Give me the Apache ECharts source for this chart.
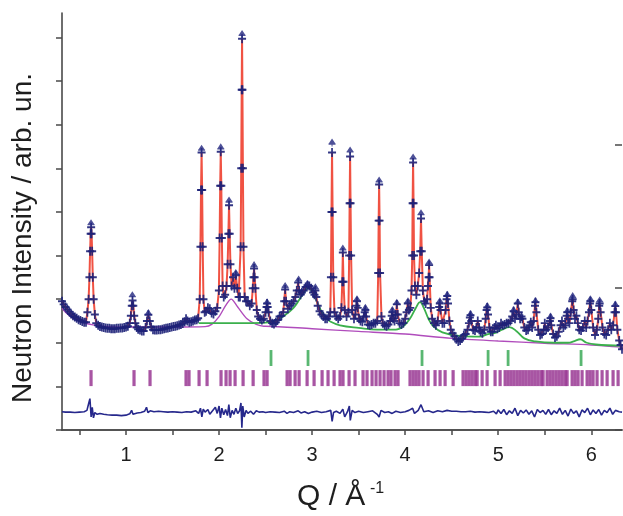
<!DOCTYPE html>
<html>
<head>
<meta charset="utf-8">
<script src="https://cdn.jsdelivr.net/npm/echarts@6/dist/echarts.min.js"></script>
<style>
  html, body { margin: 0; padding: 0; background: #ffffff; }
  #chart { width: 623px; height: 516px; }
</style>
</head>
<body>
<div id="chart"></div>
<script>
// Q axis ticks and labels (Å^-1)
const qTicks = [0.5, 1, 1.5, 2, 2.5, 3, 3.5, 4, 4.5, 5, 5.5, 6];
const qLabels = [1, 2, 3, 4, 5, 6];
const intensityTicks = [0, 1, 2, 3, 4, 5, 6, 7, 8, 9];
const rightTicks = [0, 1, 2];

// Measured / refined profile, [Q, intensity] (arb. units)
const pattern = [
  [0.312,2.95],[0.33,2.88],[0.35,2.82],[0.37,2.76],[0.39,2.71],[0.41,2.66],[0.43,2.62],[0.45,2.59],[0.47,2.56],[0.49,2.53],[0.51,2.51],[0.53,2.49],[0.55,2.47],[0.57,2.47],
  [0.585,2.7],[0.598,3.0],[0.607,3.5],[0.614,4.1],[0.62,4.5],[0.625,4.65],[0.63,4.5],[0.636,4.1],[0.643,3.5],[0.652,3.0],[0.665,2.65],[0.68,2.45],
  [0.70,2.40],[0.72,2.37],[0.74,2.36],[0.76,2.35],[0.78,2.34],[0.80,2.33],[0.82,2.33],[0.84,2.32],[0.86,2.32],[0.88,2.32],[0.90,2.33],[0.92,2.33],[0.94,2.34],[0.96,2.34],[0.98,2.35],[1.00,2.36],[1.02,2.38],
  [1.04,2.45],[1.052,2.62],[1.062,2.85],[1.07,2.97],[1.078,2.85],[1.088,2.62],[1.10,2.45],[1.115,2.35],
  [1.13,2.31],[1.15,2.29],[1.17,2.27],[1.19,2.27],
  [1.21,2.35],[1.225,2.5],[1.24,2.64],[1.255,2.5],[1.27,2.36],
  [1.29,2.30],[1.31,2.29],[1.33,2.29],[1.35,2.30],[1.37,2.30],[1.39,2.31],[1.41,2.32],[1.43,2.33],[1.45,2.34],[1.47,2.35],[1.49,2.36],[1.51,2.37],[1.53,2.38],[1.55,2.39],[1.57,2.41],[1.59,2.42],[1.61,2.44],[1.63,2.48],[1.645,2.55],[1.66,2.5],[1.68,2.47],[1.70,2.48],[1.72,2.5],[1.74,2.52],[1.76,2.53],[1.775,2.56],
  [1.792,3.0],[1.80,4.2],[1.806,5.5],[1.812,6.36],[1.818,5.5],[1.824,4.2],[1.832,3.0],[1.845,2.7],
  [1.86,2.72],[1.88,2.8],[1.90,2.78],[1.92,2.68],[1.94,2.66],[1.96,2.72],[1.98,2.8],
  [1.998,3.2],[2.006,4.4],[2.012,5.6],[2.018,6.38],[2.024,5.6],[2.03,4.4],[2.038,3.3],[2.05,3.05],[2.065,3.1],[2.08,3.3],
  [2.092,3.8],[2.10,4.5],[2.107,5.15],[2.114,4.5],[2.122,3.8],[2.135,3.3],[2.15,3.5],[2.165,3.25],[2.18,3.55],[2.195,3.25],[2.21,3.05],[2.225,3.05],
  [2.232,4.2],[2.238,6.0],[2.243,7.8],[2.247,8.97],[2.251,7.8],[2.256,6.0],[2.262,4.2],[2.275,3.05],[2.29,2.95],[2.31,2.95],[2.33,2.85],[2.35,2.9],
  [2.362,3.25],[2.37,3.5],[2.376,3.7],[2.382,3.5],[2.39,3.25],[2.405,2.75],[2.42,2.6],[2.44,2.55],[2.46,2.52],[2.48,2.55],
  [2.50,2.7],[2.51,2.82],[2.516,2.9],[2.522,2.82],[2.532,2.7],[2.55,2.5],[2.57,2.45],[2.59,2.43],[2.61,2.47],[2.63,2.52],[2.65,2.6],[2.67,2.62],[2.69,2.7],
  [2.70,2.95],[2.71,3.22],[2.72,2.95],[2.74,2.78],[2.76,2.85],[2.78,2.9],[2.80,2.95],[2.82,3.05],[2.835,3.2],
  [2.85,3.38],[2.86,3.2],[2.875,3.1],[2.89,3.15],[2.91,3.2],[2.93,3.28],[2.95,3.32],[2.97,3.3],[2.99,3.25],[3.01,3.15],
  [3.025,3.1],[3.035,3.2],[3.045,3.05],[3.06,2.85],[3.08,2.72],[3.10,2.65],[3.12,2.6],[3.14,2.55],[3.16,2.55],[3.18,2.6],[3.195,2.7],
  [3.202,3.5],[3.208,5.0],[3.214,6.36],[3.22,5.0],[3.227,3.5],[3.24,2.7],[3.26,2.6],[3.28,2.55],[3.30,2.6],[3.315,2.8],
  [3.324,3.4],[3.33,4.07],[3.337,3.4],[3.35,2.75],[3.37,2.6],[3.39,2.7],
  [3.398,4.0],[3.403,5.2],[3.408,6.27],[3.413,5.2],[3.419,4.0],[3.43,2.75],[3.45,2.55],[3.465,2.65],
  [3.475,2.85],[3.482,2.95],[3.49,2.8],[3.505,2.55],[3.52,2.5],[3.54,2.48],[3.555,2.6],
  [3.565,2.7],[3.572,2.75],[3.58,2.6],[3.60,2.42],[3.62,2.4],[3.64,2.42],[3.66,2.45],[3.68,2.45],[3.70,2.5],
  [3.71,3.6],[3.715,4.8],[3.72,5.63],[3.725,4.8],[3.73,3.6],[3.745,2.6],[3.76,2.45],[3.78,2.4],[3.80,2.38],[3.82,2.42],[3.84,2.5],
  [3.855,2.62],[3.862,2.7],[3.87,2.55],[3.885,2.5],[3.90,2.65],
  [3.91,2.88],[3.92,2.65],[3.94,2.45],[3.96,2.42],[3.98,2.45],[4.00,2.55],[4.015,2.7],
  [4.028,2.9],[4.04,2.75],[4.055,2.8],[4.068,3.2],
  [4.076,4.0],[4.08,5.2],[4.085,6.13],[4.09,5.2],[4.095,4.0],[4.105,3.3],[4.12,3.1],[4.135,3.3],[4.15,3.6],
  [4.162,4.1],[4.17,4.85],[4.178,4.1],[4.19,3.2],[4.205,2.95],[4.22,2.9],[4.235,3.0],[4.245,3.3],
  [4.252,3.5],[4.257,3.78],[4.262,3.5],[4.275,2.8],[4.29,2.55],[4.31,2.45],[4.33,2.4],[4.35,2.5],
  [4.365,2.82],[4.372,2.9],[4.38,2.75],[4.40,2.45],[4.42,2.45],[4.435,2.75],
  [4.445,3.0],[4.452,3.07],[4.46,2.9],[4.475,2.5],[4.49,2.3],[4.51,2.22],[4.53,2.15],[4.55,2.08],[4.57,2.03],[4.59,2.05],[4.61,2.1],[4.63,2.17],[4.65,2.2],[4.67,2.3],[4.685,2.45],
  [4.695,2.58],[4.702,2.63],[4.71,2.5],[4.73,2.3],[4.75,2.28],[4.765,2.35],[4.78,2.5],[4.795,2.35],[4.81,2.25],[4.83,2.22],[4.85,2.3],[4.865,2.55],
  [4.875,2.75],[4.882,2.81],[4.89,2.65],[4.905,2.35],[4.92,2.25],[4.94,2.25],[4.96,2.35],[4.975,2.4],[4.99,2.32],[5.01,2.35],[5.03,2.45],[5.05,2.4],[5.07,2.42],[5.09,2.45],[5.11,2.45],[5.13,2.5],[5.15,2.6],
  [5.165,2.72],[5.18,2.55],[5.195,2.65],[5.21,2.9],[5.22,2.7],[5.235,2.55],[5.25,2.6],[5.26,2.55],[5.28,2.35],[5.30,2.28],[5.32,2.3],[5.335,2.4],[5.35,2.47],[5.365,2.35],[5.38,2.5],
  [5.395,2.85],[5.40,2.93],[5.41,2.7],[5.43,2.3],[5.45,2.18],[5.47,2.2],[5.49,2.3],[5.50,2.45],[5.515,2.3],[5.535,2.35],
  [5.555,2.5],[5.562,2.56],[5.57,2.4],[5.59,2.2],[5.61,2.12],[5.63,2.15],[5.65,2.25],[5.67,2.4],[5.685,2.5],[5.70,2.35],[5.72,2.4],
  [5.735,2.62],[5.742,2.7],[5.75,2.55],[5.765,2.45],[5.78,2.7],
  [5.795,2.95],[5.80,3.0],[5.81,2.75],[5.825,2.55],[5.84,2.62],[5.855,2.45],[5.87,2.3],[5.89,2.28],[5.91,2.35],[5.93,2.5],[5.945,2.35],[5.96,2.5],[5.975,2.7],
  [5.985,2.9],[5.99,2.95],[6.00,2.75],[6.02,2.35],[6.04,2.18],[6.06,2.3],[6.075,2.55],[6.085,2.85],
  [6.09,2.9],[6.10,2.7],[6.12,2.35],[6.14,2.2],[6.16,2.18],[6.18,2.3],[6.20,2.45],[6.215,2.3],[6.235,2.4],[6.25,2.7],
  [6.258,2.84],[6.265,2.7],[6.28,2.3],[6.30,2.05],[6.315,1.95],[6.33,1.85]
];

// Highest measured counts on each reflection
const observedTops = [
  [0.624,4.74],[1.068,3.09],[1.24,2.68],[1.812,6.45],[2.018,6.48],[2.107,5.26],[2.18,3.6],[2.247,9.08],
  [2.376,3.78],[2.516,2.93],[2.71,3.3],[2.855,3.45],[2.95,3.35],[3.035,3.27],[3.214,6.59],[3.33,4.16],
  [3.408,6.41],[3.482,3.0],[3.572,2.8],[3.72,5.72],[3.862,2.75],[3.91,2.92],[4.03,2.95],[4.085,6.25],
  [4.17,4.97],[4.257,3.84],[4.372,2.95],[4.452,3.1],[4.702,2.66],[4.882,2.84],[5.165,2.75],[5.21,2.93],
  [5.40,2.96],[5.562,2.6],[5.742,2.73],[5.80,3.07],[5.99,3.0],[6.09,2.97],[6.258,2.88]
];

// Background curve
const background = [
  [0.312,2.79],[0.35,2.70],[0.40,2.61],[0.45,2.54],[0.50,2.49],[0.55,2.45],[0.60,2.43],[0.70,2.39],[0.80,2.37],
  [1.0,2.36],[1.5,2.36],[1.85,2.37],[1.92,2.42],[2.0,2.6],[2.07,2.85],[2.13,3.0],[2.2,2.82],[2.3,2.55],[2.4,2.42],
  [2.48,2.38],[2.5,2.38],[3.0,2.32],[3.5,2.26],[4.0,2.2],[4.5,2.1],[5.0,2.04],[5.5,1.99],[6.0,1.95],[6.33,1.9]
];

// Broad second-phase contribution on top of the background
const secondPhase = [
  [1.78,2.45],[2.0,2.45],[2.3,2.45],[2.5,2.46],[2.6,2.5],[2.7,2.62],[2.8,2.8],[2.86,2.98],[2.91,3.15],[2.96,3.27],
  [3.0,3.17],[3.05,2.95],[3.1,2.72],[3.15,2.57],[3.2,2.48],[3.3,2.4],[3.5,2.34],[3.7,2.3],[3.9,2.3],[3.98,2.38],
  [4.05,2.55],[4.11,2.78],[4.16,2.93],[4.2,2.8],[4.25,2.55],[4.3,2.38],[4.4,2.24],[4.6,2.15],[4.8,2.14],[4.89,2.2],
  [4.96,2.22],[5.04,2.3],[5.12,2.36],[5.2,2.26],[5.28,2.1],[5.4,2.03],[5.6,2.0],[5.75,2.0],[5.82,2.04],[5.88,2.08],
  [5.95,2.0],[6.05,1.96],[6.33,1.93]
];

// Observed minus calculated
const difference = [
  [0.312,0.42],[0.35,0.41],[0.40,0.41],[0.45,0.40],[0.50,0.41],[0.55,0.42],[0.58,0.45],[0.60,0.62],[0.612,0.72],[0.625,0.3],
  [0.637,0.52],[0.65,0.28],[0.665,0.4],[0.69,0.36],[0.72,0.38],[0.76,0.36],[0.80,0.35],[0.85,0.34],[0.90,0.34],[0.95,0.33],
  [1.0,0.34],[1.04,0.37],[1.06,0.45],[1.075,0.36],[1.09,0.4],[1.12,0.39],[1.16,0.4],[1.2,0.43],[1.22,0.52],[1.235,0.4],
  [1.26,0.44],[1.3,0.42],[1.35,0.43],[1.4,0.42],[1.45,0.41],[1.5,0.42],[1.55,0.41],[1.6,0.4],[1.65,0.42],[1.7,0.41],
  [1.75,0.44],[1.78,0.38],[1.80,0.5],[1.815,0.3],[1.83,0.48],[1.85,0.41],[1.88,0.47],[1.9,0.36],[1.93,0.44],[1.96,0.52],
  [1.98,0.38],[2.0,0.55],[2.015,0.28],[2.03,0.5],[2.05,0.35],[2.07,0.47],[2.09,0.33],[2.105,0.58],[2.12,0.28],[2.14,0.45],
  [2.16,0.36],[2.18,0.5],[2.2,0.38],[2.22,0.44],[2.235,0.62],[2.245,0.05],[2.255,0.55],[2.27,0.3],[2.29,0.45],[2.31,0.38],
  [2.34,0.43],[2.37,0.36],[2.4,0.44],[2.43,0.41],[2.47,0.42],[2.5,0.4],[2.55,0.42],[2.6,0.41],[2.65,0.4],[2.7,0.43],
  [2.73,0.38],[2.76,0.42],[2.8,0.4],[2.85,0.44],[2.88,0.39],[2.92,0.42],[2.96,0.38],[3.0,0.41],[3.05,0.43],[3.1,0.4],
  [3.15,0.42],[3.2,0.45],[3.215,0.2],[3.23,0.4],[3.26,0.43],[3.3,0.38],[3.33,0.48],[3.35,0.3],[3.38,0.42],[3.40,0.55],
  [3.41,0.22],[3.43,0.45],[3.46,0.4],[3.5,0.43],[3.55,0.4],[3.6,0.42],[3.65,0.44],[3.7,0.36],[3.72,0.3],[3.74,0.45],
  [3.78,0.4],[3.82,0.42],[3.86,0.38],[3.9,0.43],[3.95,0.4],[4.0,0.42],[4.04,0.45],[4.08,0.5],[4.1,0.38],[4.14,0.45],
  [4.17,0.58],[4.2,0.42],[4.25,0.44],[4.3,0.4],[4.35,0.44],[4.4,0.42],[4.45,0.45],[4.5,0.43],[4.55,0.43],[4.6,0.42],
  [4.65,0.42],[4.7,0.43],[4.75,0.41],[4.8,0.42],[4.85,0.41],[4.9,0.4],[4.95,0.43],[4.98,0.37],[5.0,0.46],[5.03,0.38],
  [5.06,0.47],[5.09,0.35],[5.12,0.44],[5.15,0.38],[5.18,0.5],[5.21,0.33],[5.24,0.45],[5.27,0.39],[5.3,0.46],[5.33,0.36],
  [5.36,0.44],[5.39,0.3],[5.42,0.47],[5.45,0.4],[5.48,0.45],[5.51,0.36],[5.54,0.47],[5.57,0.35],[5.6,0.44],[5.63,0.38],
  [5.66,0.5],[5.69,0.36],[5.72,0.45],[5.75,0.32],[5.78,0.48],[5.81,0.38],[5.84,0.44],[5.87,0.3],[5.9,0.46],[5.93,0.4],
  [5.96,0.5],[5.99,0.35],[6.02,0.46],[6.05,0.38],[6.08,0.47],[6.11,0.34],[6.14,0.45],[6.17,0.4],[6.2,0.5],[6.23,0.36],
  [6.26,0.45],[6.3,0.42],[6.33,0.41]
];

// Bragg reflection positions (Q) of the main phase
const mainReflections = [
  0.624,1.086,1.258,1.645,1.677,1.785,1.871,2.021,2.075,2.118,2.172,2.258,2.366,2.483,2.516,
  2.731,2.763,2.817,2.860,2.946,3.021,3.107,3.171,3.236,3.300,3.332,3.397,3.461,3.547,3.590,
  3.644,3.687,3.730,3.773,3.816,3.848,3.891,3.923,4.052,4.085,4.117,4.149,4.192,4.246,4.321,
  4.375,4.429,4.515,4.622,4.655,4.687,4.719,4.751,4.773,4.827,4.880,4.966,5.020,
  5.074,5.106,5.138,5.170,5.203,5.235,5.267,5.299,5.332,5.364,5.396,5.428,5.461,5.482,
  5.525,5.557,5.589,5.622,5.654,5.686,5.718,5.740,5.794,5.826,5.858,5.901,5.955,5.987,6.019,
  6.062,6.116,6.170,6.234,6.288
];

// Bragg reflection positions (Q) of the second phase
const secondReflections = [2.558, 2.956, 4.181, 4.891, 5.106, 5.890];

const FONT = '"Liberation Sans", Arial, Helvetica, sans-serif';
const AXIS_COLOR = '#4a4a4a';
const MAIN_ROW = 1.19;     // height of the main-phase marker row
const SECOND_ROW = 1.65;   // height of the second-phase marker row

const plusSymbol = 'path://M0,3.9H10V6.1H0Z M3.9,0H6.1V10H3.9Z';
const topSymbol = 'path://M5,0L9.5,6H0.5Z M0,6H10V7.6H0Z M4.3,6H5.7V10H4.3Z';

const chart = echarts.init(document.getElementById('chart'), null, { renderer: 'canvas' });

chart.setOption({
  animation: false,
  backgroundColor: '#ffffff',
  grid: { left: 62, right: 1, top: 13, bottom: 86, containLabel: false },
  xAxis: [
    {
      type: 'value', position: 'bottom', min: 0.312, max: 6.33,
      axisLine: { show: true, lineStyle: { color: AXIS_COLOR, width: 1.6 } },
      axisTick: { show: true, inside: false, length: 5, customValues: qTicks, lineStyle: { color: AXIS_COLOR, width: 1.5 } },
      axisLabel: { show: true, customValues: qLabels, margin: 15, fontFamily: FONT, fontSize: 20, color: '#1e1e1e' },
      splitLine: { show: false }
    },
    {
      type: 'value', position: 'top', min: 0.312, max: 6.33,
      axisLine: { show: true, lineStyle: { color: AXIS_COLOR, width: 1.6 } },
      axisTick: { show: true, inside: true, length: 5, customValues: qLabels, lineStyle: { color: AXIS_COLOR, width: 1.5 } },
      axisLabel: { show: false },
      splitLine: { show: false }
    }
  ],
  yAxis: [
    {
      type: 'value', position: 'left', min: 0, max: 9.56,
      axisLine: { show: true, lineStyle: { color: AXIS_COLOR, width: 1.6 } },
      axisTick: { show: true, inside: false, length: 6, customValues: intensityTicks, lineStyle: { color: AXIS_COLOR, width: 1.5 } },
      axisLabel: { show: false },
      splitLine: { show: false }
    },
    {
      type: 'value', position: 'right', min: 0, max: 2.926,
      axisLine: { show: false },
      axisTick: { show: true, inside: true, length: 7, customValues: rightTicks, lineStyle: { color: AXIS_COLOR, width: 1.5 } },
      axisLabel: { show: false },
      splitLine: { show: false }
    }
  ],
  series: [
    {
      name: 'background', type: 'line', data: background, showSymbol: false, smooth: 0.3,
      lineStyle: { color: '#b04cbc', width: 1.4 }, z: 2
    },
    {
      name: 'second phase', type: 'line', data: secondPhase, showSymbol: false, smooth: 0.4,
      lineStyle: { color: '#3bb04c', width: 1.8 }, z: 3
    },
    {
      name: 'calculated', type: 'line', data: pattern, showSymbol: false,
      lineStyle: { color: '#ee3f2f', width: 2, opacity: 0.9 }, z: 4
    },
    {
      name: 'observed', type: 'scatter', data: pattern, symbol: plusSymbol, symbolSize: [8, 9],
      itemStyle: { color: '#1d2178', opacity: 0.9 }, z: 5
    },
    {
      name: 'observed maxima', type: 'scatter', data: observedTops, symbol: topSymbol, symbolSize: [7, 8],
      itemStyle: { color: '#22267e' }, z: 6
    },
    {
      name: 'main phase reflections', type: 'scatter',
      data: mainReflections.map(q => [q, MAIN_ROW]),
      symbol: 'rect', symbolSize: [3.2, 16],
      itemStyle: { color: '#922a8c' }, z: 3
    },
    {
      name: 'second phase reflections', type: 'scatter',
      data: secondReflections.map(q => [q, SECOND_ROW]),
      symbol: 'rect', symbolSize: [2.8, 16],
      itemStyle: { color: '#2fa54e' }, z: 3
    },
    {
      name: 'difference', type: 'line', data: difference, showSymbol: false,
      lineStyle: { color: '#26288c', width: 1.6 }, z: 4
    }
  ],
  graphic: [
    {
      type: 'text', x: 23, y: 238, rotation: Math.PI / 2,
      style: { text: 'Neutron Intensity / arb. un.', font: '28px ' + FONT, fill: '#1e1e1e', align: 'center', verticalAlign: 'middle' }
    },
    {
      type: 'text', x: 297, y: 497,
      style: { text: 'Q / Å', font: '30px ' + FONT, fill: '#1e1e1e', align: 'left', verticalAlign: 'middle' }
    },
    {
      type: 'text', x: 370, y: 489,
      style: { text: '-1', font: '16px ' + FONT, fill: '#1e1e1e', align: 'left', verticalAlign: 'middle' }
    }
  ]
});
</script>
</body>
</html>
